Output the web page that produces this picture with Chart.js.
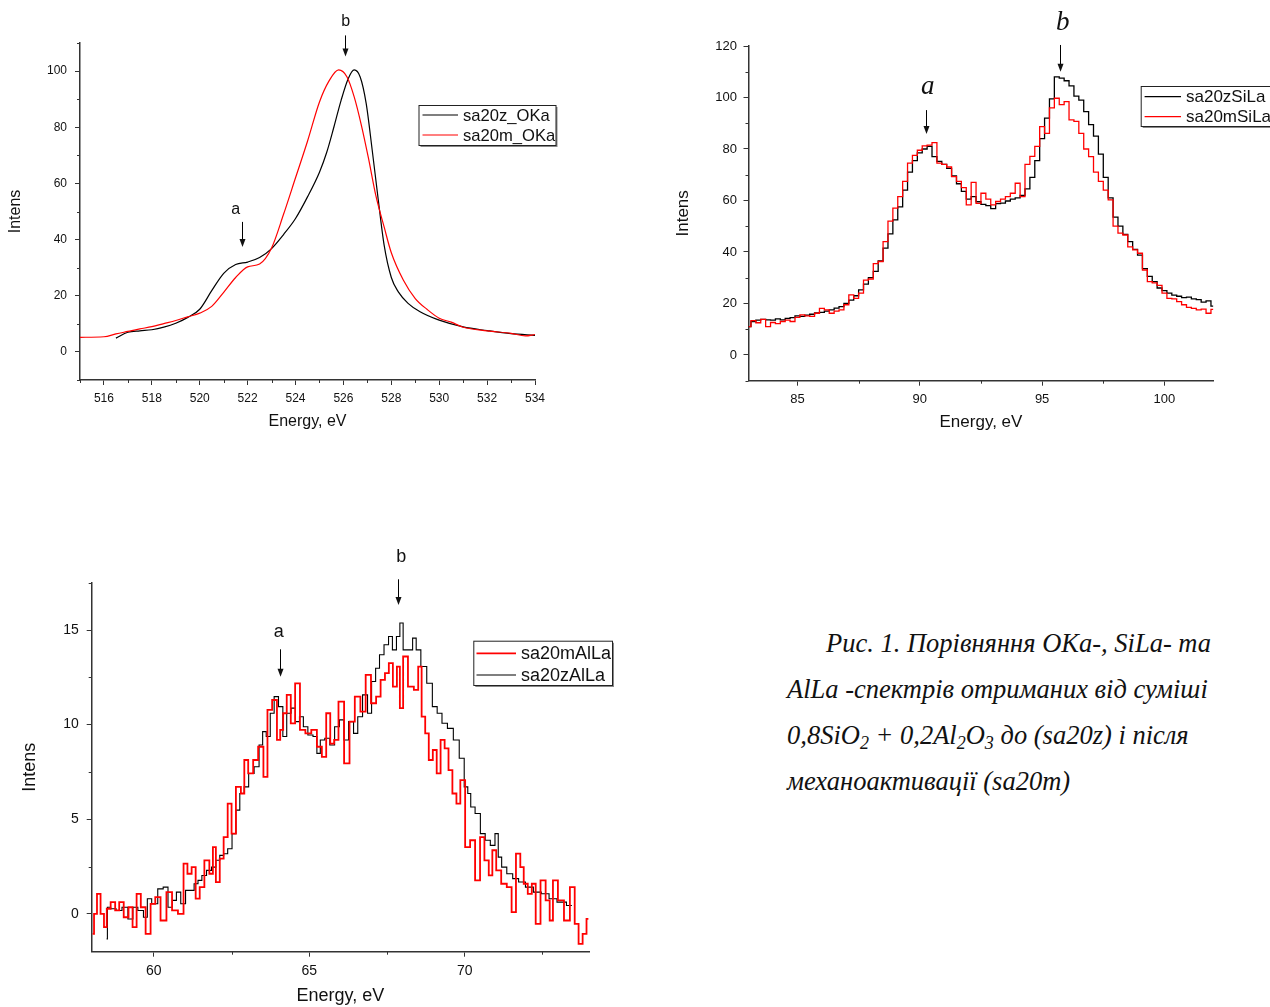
<!DOCTYPE html>
<html>
<head>
<meta charset="utf-8">
<script src="https://cdn.jsdelivr.net/npm/chart.js@4.4.1/dist/chart.umd.min.js"></script>
<style>
  body { margin: 0; background: #fff; width: 1270px; height: 1007px; position: relative; overflow: hidden; }
  canvas { position: absolute; }
  .cap { position: absolute; white-space: nowrap; font-family: "Liberation Serif", "Times New Roman", serif;
         font-style: italic; font-size: 26.5px; line-height: 26.5px; color: #111; }
  .cap sub { font-size: 0.68em; vertical-align: -0.28em; line-height: 0; }
</style>
</head>
<body>
<canvas id="okChart" width="600" height="450" style="left:0;top:0"></canvas>
<canvas id="siChart" width="610" height="450" style="left:660px;top:0"></canvas>
<canvas id="alChart" width="640" height="467" style="left:0;top:540px"></canvas>

<div class="cap" style="left:826px;top:630px">Рис. 1. Порівняння OKa-, SiLa- та</div>
<div class="cap" style="left:787px;top:676px">AlLa -спектрів отриманих від суміші</div>
<div class="cap" style="left:787px;top:722px">0,8SiO<sub>2</sub> + 0,2Al<sub>2</sub>O<sub>3</sub> до (sa20z) і після</div>
<div class="cap" style="left:787px;top:768px">механоактивації (sa20m)</div>

<script>
/* ---------- O Ka spectra (smooth curves) ---------- */
const okZEnergy = [516.5, 517.0, 517.5, 518.0, 518.5, 519.0, 519.5, 520.0, 520.5, 521.0,
                   521.5, 522.0, 522.5, 523.0, 523.5, 524.0, 524.5, 525.0, 525.3, 525.6,
                   525.9, 526.2, 526.45, 526.7, 526.95, 527.2, 527.45, 527.7, 528.0, 528.3,
                   528.7, 529.2, 530.0, 531.0, 532.0, 533.0, 534.0];
const okZInt    = [4.9, 7.0, 7.5, 7.9, 8.8, 10.2, 12.3, 15.2, 21.8, 28.0,
                   31.1, 32.0, 33.6, 36.8, 41.8, 47.5, 55.2, 64.0, 71.0, 80.0,
                   89.5, 97.3, 100.4, 97.9, 88.5, 72.0, 54.5, 38.0, 26.5, 21.3,
                   17.3, 14.3, 11.3, 8.9, 7.6, 6.5, 5.9];
const okMEnergy = [515.0, 516.0, 516.5, 517.0, 517.5, 518.0, 518.5, 519.0, 519.5, 520.0,
                   520.5, 521.0, 521.5, 522.0, 522.5, 523.0, 523.5, 524.0, 524.5, 525.0,
                   525.4, 525.8, 526.15, 526.45, 526.75, 527.05, 527.35, 527.7, 528.0, 528.5,
                   529.0, 529.5, 530.0, 530.5, 531.0, 532.0, 533.0, 533.6, 534.0];
const okMInt    = [5.2, 5.4, 6.4, 7.3, 8.2, 9.0, 10.1, 11.2, 12.5, 13.8,
                   16.2, 21.2, 26.5, 30.3, 31.3, 37.0, 49.0, 62.0, 75.0, 89.0,
                   96.5, 100.4, 97.9, 90.8, 80.7, 68.8, 55.8, 44.5, 35.3, 25.6,
                   19.0, 15.1, 12.0, 10.6, 8.8, 7.5, 6.6, 5.7, 6.2];
const okXTicks = [516, 518, 520, 522, 524, 526, 528, 530, 532, 534];
const okXMinor = [515, 517, 519, 521, 523, 525, 527, 529, 531, 533];
const okYTicks = [0, 20, 40, 60, 80, 100];
const okYMinor = [-10, 10, 30, 50, 70, 90, 110];

/* ---------- Si La spectra (step histograms) ---------- */
const siEnergy = [83.0, 83.2, 83.4, 83.6, 83.8, 84.0, 84.2, 84.4, 84.6, 84.8,
                  85.0, 85.2, 85.4, 85.6, 85.8, 86.0, 86.2, 86.4, 86.6, 86.8,
                  87.0, 87.2, 87.4, 87.6, 87.8, 88.0, 88.2, 88.4, 88.6, 88.8,
                  89.0, 89.2, 89.4, 89.6, 89.8, 90.0, 90.2, 90.4, 90.6, 90.8,
                  91.0, 91.2, 91.4, 91.6, 91.8, 92.0, 92.2, 92.4, 92.6, 92.8,
                  93.0, 93.2, 93.4, 93.6, 93.8, 94.0, 94.2, 94.4, 94.6, 94.8,
                  95.0, 95.2, 95.4, 95.6, 95.8, 96.0, 96.2, 96.4, 96.6, 96.8,
                  97.0, 97.2, 97.4, 97.6, 97.8, 98.0, 98.2, 98.4, 98.6, 98.8,
                  99.0, 99.2, 99.4, 99.6, 99.8, 100.0, 100.2, 100.4, 100.6, 100.8,
                  101.0, 101.2, 101.4, 101.6, 101.8, 102.0];
const siZInt = [11, 13, 13.5, 13.8, 13.6, 13.5, 14, 13.6, 14.2, 14.5,
                15.2, 15, 15.5, 15.8, 16.3, 16.5, 17, 17.5, 18.2, 18.8,
                20, 21.3, 23, 25.3, 27.5, 30, 32.5, 36.5, 41.5, 47,
                52.5, 57.5, 64, 71, 75.5, 78.5, 80, 81, 77, 75.2,
                74, 72.5, 69.5, 66.5, 63.5, 60.5, 61.5, 59.5, 58.5, 58,
                56.8, 58.8, 59, 59.8, 60.5, 61, 62, 64.5, 69, 75.5,
                84, 92, 99.5, 108, 107.5, 106.5, 104.5, 100.5, 99, 94.5,
                89.5, 85, 78, 69, 61, 53.5, 50, 46.8, 44, 41,
                38.8, 33.5, 30.5, 28.5, 26, 25, 24, 23.2, 22.8, 22.3,
                22.5, 21.8, 21.5, 20.5, 21, 19];
const siMInt = [11, 13.3, 12.5, 13.8, 11, 12.6, 12.2, 13, 13.5, 13,
                14.6, 15.6, 15.2, 15, 16.2, 18.1, 17.5, 16.2, 17, 17.5,
                19.5, 23.3, 22, 24, 29.1, 29.5, 35.5, 36.3, 44, 52,
                57, 61.5, 67.4, 74.5, 77.5, 79.5, 81.2, 81.5, 82.5, 74.5,
                74, 73, 69.3, 67.4, 65, 58.3, 67, 58.9, 62.8, 60.5,
                58.3, 59.6, 60.5, 61.5, 62.8, 66.7, 61.5, 74, 77.1, 81,
                88.7, 86.1, 96, 99.7, 97.2, 98.4, 91.3, 90.7, 86.1, 80,
                77, 71, 67.4, 64, 60.2, 50, 47.3, 46.6, 42, 40.8,
                39.5, 33, 28.5, 28, 27, 24, 22, 21.8, 20.7, 19.5,
                18.5, 18.1, 17.5, 17.8, 16.2, 17.7];
const siXTicks = [85, 90, 95, 100];
const siXMinor = [87.5, 92.5, 97.5];
const siYTicks = [0, 20, 40, 60, 80, 100, 120];
const siYMinor = [-10, 10, 30, 50, 70, 90, 110];

/* ---------- Al La spectra (step histograms) ---------- */
const alMEnergy = [58.03, 58.12, 58.22, 58.35, 58.44, 58.53, 58.69, 58.82, 58.95, 59.11,
                   59.26, 59.37, 59.52, 59.64, 59.83, 59.96, 60.13, 60.3, 60.51, 60.66,
                   60.89, 61.02, 61.14, 61.29, 61.4, 61.55, 61.7, 61.87, 61.93, 62.06,
                   62.18, 62.31, 62.44, 62.56, 62.72, 62.88, 62.94, 63.13, 63.26, 63.45,
                   63.6, 63.71, 63.9, 64.02, 64.11, 64.21, 64.34, 64.47, 64.62, 64.78,
                   64.97, 65.16, 65.33, 65.48, 65.61, 65.74, 65.86, 66.02, 66.22, 66.37,
                   66.56, 66.73, 66.9, 67.07, 67.23, 67.36, 67.51, 67.61, 67.77, 67.87,
                   67.96, 68.08, 68.27, 68.46, 68.55, 68.68, 68.78, 68.91, 69.04, 69.16,
                   69.29, 69.42, 69.54, 69.67, 69.8, 69.92, 70.11, 70.24, 70.43, 70.56,
                   70.71, 70.84, 70.94, 71.09, 71.26, 71.45, 71.57, 71.73, 71.85, 71.95,
                   72.11, 72.21, 72.36, 72.52, 72.69, 72.78, 72.9, 73.1, 73.29, 73.48,
                   73.6, 73.73, 73.86, 73.98];
const alMInt    = [-1.06, 0, 1.06, 0, -0.7, 0.27, 0.62, 0.18, 0.62, -0.18,
                   0.35, -0.7, 1.06, 0.35, -1.06, 0.53, 0.88, -0.35, 1.15, 0.18,
                   0, 2.65, 2.12, 2.47, 0.8, 1.41, 2.83, 2.12, 3.53, 1.68,
                   2.92, 4.06, 5.83, 4.24, 6.71, 6.36, 8.13, 7.42, 8.13, 8.83,
                   7.24, 10.78, 11.3, 9.19, 9.72, 10.6, 11.57, 10.07, 12.18, 9.72,
                   9.54, 9.72, 8.83, 8.3, 10.6, 9.0, 9.19, 11.22, 7.95, 10.16,
                   11.48, 10.69, 12.63, 11.13, 11.48, 12.37, 12.72, 13.25, 12.01, 13.07,
                   10.87, 13.6, 12.01, 11.84, 13.07, 10.42, 9.54, 8.13, 8.66, 7.42,
                   9.19, 8.75, 7.6, 6.36, 5.83, 7.07, 3.53, 3.89, 1.77, 4.06,
                   2.83, 2.03, 3.36, 2.3, 1.59, 1.41, 0.09, 3.18, 2.47, 1.59,
                   1.06, 1.59, -0.53, 1.77, 0.71, -0.35, 1.77, 0.71, -0.35, 1.41,
                   -0.53, -1.59, -1.06, -0.27];
const alZEnergy = [58.48, 58.53, 58.69, 58.88, 59.07, 59.26, 59.39, 59.58, 59.75, 59.83,
                   60.03, 60.22, 60.38, 60.53, 60.66, 60.79, 60.94, 61.1, 61.23, 61.36,
                   61.48, 61.61, 61.78, 61.93, 62.06, 62.18, 62.31, 62.44, 62.59, 62.69,
                   62.84, 62.97, 63.13, 63.32, 63.45, 63.55, 63.68, 63.81, 63.93, 64.09,
                   64.21, 64.34, 64.49, 64.62, 64.75, 64.87, 65.04, 65.2, 65.29, 65.42,
                   65.58, 65.74, 65.89, 66.05, 66.18, 66.35, 66.5, 66.62, 66.81, 66.94,
                   67.07, 67.2, 67.32, 67.49, 67.61, 67.74, 67.87, 67.96, 68.08, 68.27,
                   68.38, 68.5, 68.68, 68.88, 69.04, 69.19, 69.35, 69.54, 69.73, 69.92,
                   70.05, 70.15, 70.24, 70.43, 70.58, 70.74, 70.91, 71.04, 71.12, 71.26,
                   71.45, 71.64, 71.83, 72.08, 72.34, 72.59, 72.84, 73.1, 73.45];
const alZInt    = [-1.32, 0.35, 0.27, 0.18, 0.35, -0.27, 0.35, 0.18, -0.18, 0.8,
                   0.53, 1.32, 1.41, 0.35, 0.71, 1.15, 0.53, 1.24, 1.24, 1.59,
                   1.77, 2.03, 2.3, 2.47, 2.83, 3.09, 3.18, 3.44, 4.24, 5.48,
                   6.36, 6.71, 7.42, 7.77, 8.92, 9.63, 9.37, 10.6, 11.48, 10.95,
                   9.37, 10.6, 10.87, 10.16, 10.42, 9.89, 9.45, 9.37, 8.48, 9.19,
                   9.28, 8.92, 9.89, 10.25, 9.19, 10.16, 9.54, 10.42, 11.57, 10.6,
                   12.28, 12.98, 13.69, 14.22, 14.66, 13.95, 14.66, 15.37, 13.95, 13.95,
                   14.57, 13.95, 13.07, 12.19, 10.95, 10.6, 10.07, 9.8, 9.19, 8.22,
                   6.71, 6.36, 5.65, 5.3, 4.24, 3.89, 3.62, 4.24, 3.0, 2.47,
                   2.12, 1.86, 1.68, 1.41, 1.15, 1.06, 0.8, 0.62, 0.44];
const alXTicks = [60, 65, 70];
const alXMinor = [62.5, 67.5, 72.5];
const alYTicks = [0, 5, 10, 15];
const alYMinor = [2.5, 7.5, 12.5, 17.5];

/* peak markers: label position and arrow (top -> tip), in energy / intensity units */
const okMarks = [
  { text: 'a', tx: 521.5, ty: 50.8, x: 521.77, y0: 46.3, y1: 37.4 },
  { text: 'b', tx: 526.1, ty: 117.8, x: 526.05, y0: 112.7, y1: 105.2 }
];
const siMarks = [
  { text: 'a', tx: 90.33, ty: 104, x: 90.27, y0: 95.1, y1: 85.8 },
  { text: 'b', tx: 95.84, ty: 128.8, x: 95.75, y0: 120.4, y1: 110.0 }
];
const alMarks = [
  { text: 'a', tx: 64.02, ty: 14.9, x: 64.07, y0: 13.98, y1: 12.53 },
  { text: 'b', tx: 67.96, ty: 18.85, x: 67.87, y0: 17.68, y1: 16.32 }
];

const SANS = '"Liberation Sans", Arial, sans-serif';
const SERIF = '"Liberation Serif", "Times New Roman", serif';
const AXIS = '#333';
const TEXT = '#111';
const RED = '#ff0000';
const BLACK = '#000000';

function toPoints(xs, ys) {
  return xs.map((x, i) => ({ x: x, y: ys[i] }));
}

function axis(o) {
  return {
    type: 'linear',
    position: o.pos,
    min: o.min,
    max: o.max,
    bounds: 'data',
    afterBuildTicks: s => { s.ticks = o.ticks.map(v => ({ value: v })); },
    afterFit: s => { if (o.pos === 'left') s.width = o.size; else s.height = o.size; },
    grid: { display: true, drawOnChartArea: false, drawTicks: true, tickLength: 5, tickColor: AXIS, tickWidth: 1 },
    border: { display: true, color: AXIS, width: 1.5 },
    ticks: { autoSkip: false, maxRotation: 0, padding: o.tickPad, color: TEXT, font: { family: SANS, size: o.tickSize } },
    title: { display: true, text: o.title, color: TEXT, font: { family: SANS, size: o.titleSize, lineHeight: 1.2 }, padding: o.titlePad }
  };
}

// minor ticks, peak arrows and the boxed legend
function decor(d) {
  return {
    id: 'decor',
    afterDraw(chart) {
      const { ctx, chartArea: a } = chart;
      const x = chart.scales.x, y = chart.scales.y;
      ctx.save();
      ctx.strokeStyle = AXIS;
      ctx.lineWidth = 1;
      ctx.beginPath();
      d.xMinor.forEach(v => {
        const px = Math.round(x.getPixelForValue(v)) + 0.5;
        ctx.moveTo(px, a.bottom); ctx.lineTo(px, a.bottom + 3);
      });
      d.yMinor.forEach(v => {
        const py = Math.round(y.getPixelForValue(v)) + 0.5;
        ctx.moveTo(a.left, py); ctx.lineTo(a.left - 3, py);
      });
      ctx.stroke();

      // arrows with labels
      ctx.fillStyle = TEXT;
      ctx.strokeStyle = '#000';
      ctx.textAlign = 'center';
      ctx.textBaseline = 'middle';
      ctx.font = d.markFont;
      d.marks.forEach(m => {
        const px = Math.round(x.getPixelForValue(m.x)) + 0.5;
        const top = y.getPixelForValue(m.y0), tip = y.getPixelForValue(m.y1);
        ctx.beginPath();
        ctx.moveTo(px, top); ctx.lineTo(px, tip - 6);
        ctx.stroke();
        ctx.beginPath();
        ctx.moveTo(px - 3, tip - 8); ctx.lineTo(px + 3, tip - 8); ctx.lineTo(px, tip);
        ctx.closePath();
        ctx.fill();
        ctx.fillText(m.text, x.getPixelForValue(m.tx), y.getPixelForValue(m.ty));
      });

      // legend
      const L = d.legend;
      ctx.fillStyle = '#fff';
      ctx.fillRect(L.x, L.y, L.w, L.h);
      ctx.strokeStyle = '#888';
      ctx.lineWidth = 1.5;
      ctx.beginPath();
      ctx.moveTo(L.x + 2, L.y + L.h + 1.25); ctx.lineTo(L.x + L.w + 1.25, L.y + L.h + 1.25); ctx.lineTo(L.x + L.w + 1.25, L.y + 2);
      ctx.stroke();
      ctx.strokeStyle = '#222';
      ctx.lineWidth = 1;
      ctx.strokeRect(L.x + 0.5, L.y + 0.5, L.w, L.h);
      ctx.font = L.font;
      ctx.textAlign = 'left';
      ctx.textBaseline = 'middle';
      L.order.forEach((idx, r) => {
        const ds = chart.data.datasets[idx];
        const ry = L.rows[r];
        ctx.strokeStyle = ds.borderColor;
        ctx.lineWidth = ds.borderWidth;
        ctx.beginPath();
        ctx.moveTo(L.lineX0, ry); ctx.lineTo(L.lineX1, ry);
        ctx.stroke();
        ctx.fillStyle = TEXT;
        ctx.fillText(ds.label, L.textX, ry + 1);
      });
      ctx.restore();
    }
  };
}

function baseOptions(padding, scales) {
  return {
    responsive: false,
    animation: false,
    events: [],
    layout: { padding: padding },
    plugins: { legend: { display: false }, tooltip: { enabled: false } },
    elements: { point: { radius: 0 } },
    scales: scales
  };
}

/* ---------- O Ka ---------- */
new Chart(document.getElementById('okChart'), {
  type: 'line',
  data: {
    datasets: [
      { label: 'sa20m_OKa', data: toPoints(okMEnergy, okMInt), borderColor: RED, borderWidth: 1.2, cubicInterpolationMode: 'monotone', fill: false },
      { label: 'sa20z_OKa', data: toPoints(okZEnergy, okZInt), borderColor: BLACK, borderWidth: 1.2, cubicInterpolationMode: 'monotone', fill: false }
    ]
  },
  options: baseOptions({ left: 0, top: 43, right: 65, bottom: 0 }, {
    x: axis({ pos: 'bottom', min: 515, max: 534, ticks: okXTicks, size: 70, tickPad: 6, tickSize: 12,
              title: 'Energy, eV', titleSize: 16, titlePad: { top: 0, bottom: 18.4 } }),
    y: axis({ pos: 'left', min: -10, max: 110, ticks: okYTicks, size: 80, tickPad: 8, tickSize: 12,
              title: 'Intens', titleSize: 16, titlePad: { top: 6.4, bottom: 0 } })
  }),
  plugins: [decor({
    xMinor: okXMinor, yMinor: okYMinor, marks: okMarks, markFont: '16px ' + SANS,
    legend: { x: 418.5, y: 105, w: 137, h: 40, rows: [115, 135], order: [1, 0],
              lineX0: 422.5, lineX1: 458, textX: 463, font: '16.6px ' + SANS }
  })]
});

/* ---------- Si La ---------- */
new Chart(document.getElementById('siChart'), {
  type: 'line',
  data: {
    datasets: [
      { label: 'sa20mSiLa', data: toPoints(siEnergy, siMInt), borderColor: RED, borderWidth: 1.3, stepped: 'middle', fill: false },
      { label: 'sa20zSiLa', data: toPoints(siEnergy, siZInt), borderColor: BLACK, borderWidth: 1.3, stepped: 'middle', fill: false }
    ]
  },
  options: baseOptions({ left: 0, top: 46, right: 56.6, bottom: 0 }, {
    x: axis({ pos: 'bottom', min: 83, max: 102, ticks: siXTicks, size: 69.3, tickPad: 6, tickSize: 13,
              title: 'Energy, eV', titleSize: 17, titlePad: { top: 0, bottom: 17.8 } }),
    y: axis({ pos: 'left', min: -10, max: 120, ticks: siYTicks, size: 88.5, tickPad: 6.5, tickSize: 13,
              title: 'Intens', titleSize: 17, titlePad: { top: 12.8, bottom: 0 } })
  }),
  plugins: [decor({
    xMinor: siXMinor, yMinor: siYMinor, marks: siMarks, markFont: 'italic 27px ' + SERIF,
    legend: { x: 480.7, y: 86, w: 140, h: 40, rows: [96.7, 116.7], order: [1, 0],
              lineX0: 484.6, lineX1: 521, textX: 526, font: '17px ' + SANS }
  })]
});

/* ---------- Al La ---------- */
new Chart(document.getElementById('alChart'), {
  type: 'line',
  data: {
    datasets: [
      { label: 'sa20mAlLa', data: toPoints(alMEnergy, alMInt), borderColor: RED, borderWidth: 1.8, stepped: 'middle', fill: false },
      { label: 'sa20zAlLa', data: toPoints(alZEnergy, alZInt), borderColor: BLACK, borderWidth: 1.1, stepped: 'middle', fill: false }
    ]
  },
  options: baseOptions({ left: 0, top: 42.7, right: 51, bottom: 0 }, {
    x: axis({ pos: 'bottom', min: 58, max: 74, ticks: alXTicks, size: 55.3, tickPad: 6, tickSize: 14,
              title: 'Energy, eV', titleSize: 18, titlePad: { top: 0, bottom: 0.2 } }),
    y: axis({ pos: 'left', min: -2, max: 17.5, ticks: alYTicks, size: 91.7, tickPad: 8, tickSize: 14,
              title: 'Intens', titleSize: 18, titlePad: { top: 18.9, bottom: 0 } })
  }),
  plugins: [decor({
    xMinor: alXMinor, yMinor: alYMinor, marks: alMarks, markFont: '18px ' + SANS,
    legend: { x: 473.3, y: 100.7, w: 138.7, h: 44.3, rows: [113.3, 135], order: [0, 1],
              lineX0: 476.5, lineX1: 516, textX: 521, font: '18px ' + SANS }
  })]
});
</script>
</body>
</html>
